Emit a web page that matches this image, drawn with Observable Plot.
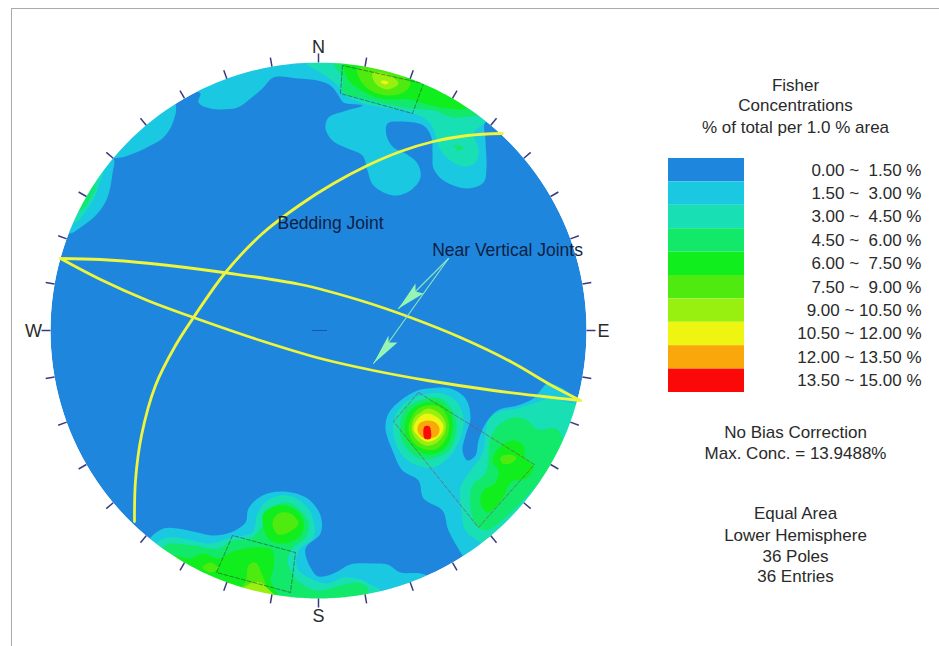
<!DOCTYPE html>
<html><head><meta charset="utf-8">
<script src="https://cdn.jsdelivr.net/npm/d3@7"></script>
<script src="https://cdn.jsdelivr.net/npm/@observablehq/plot@0.6"></script>
<style>html,body{margin:0;padding:0;background:#fff}svg{display:block}</style>
</head><body><div id="chart"></div>
<script>
// Net coordinates: east and north, the net radius is 268 units.
const netRadius = 268;
const levelColors = ["#1f86dd","#1ac8e2","#18e0b4","#12e86a","#10ee1e","#4eea10","#98f010","#eef510","#f9a70a","#fb0808"];
const legendLabels = ["0.00 ~\u00a0\u00a01.50 %","1.50 ~\u00a0\u00a03.00 %","3.00 ~\u00a0\u00a04.50 %","4.50 ~\u00a0\u00a06.00 %","6.00 ~\u00a0\u00a07.50 %","7.50 ~\u00a0\u00a09.00 %","9.00 ~ 10.50 %","10.50 ~ 12.00 %","12.00 ~ 13.50 %","13.50 ~ 15.00 %"];
const legendTitle = ["Fisher","Concentrations","% of total per 1.0 % area"];
const noteLines = ["No Bias Correction","Max. Conc. = 13.9488%"];
const statLines = ["Equal Area","Lower Hemisphere","36 Poles","36 Entries"];
const compass = [{t:"N",x:0,y:283},{t:"S",x:0,y:-286},{t:"W",x:-285,y:-1},{t:"E",x:285,y:-1}];
const tickAzimuths = d3.range(0,360,10);

// Contours, by level
const northL1 = [[-122,240],[-118,237],[-120,228],[-108,222],[-81,223],[-68,232],[-56,242],[-45,253],[-21,252],[-1,250],[12,245],[20,235],[25,228],[44,225],[25,219],[10,213],[7,202],[14,190],[29,182],[44,175],[49,160],[55,145],[75,135],[92,140],[102,153],[99,167],[87,177],[75,183],[68,195],[69,207],[82,209],[105,205],[113,193],[114,177],[115,162],[125,150],[149,142],[165,148],[168,163],[167,190],[167,210],[205,240],[60,305],[-125,295]];
const nwL1a = [[-250,97],[-238,103],[-221,117],[-211,133],[-206,157],[-205,172],[-230,190],[-285,120]];
const nwL1b = [[-205,173],[-185,177],[-168,185],[-155,193],[-146,207],[-143,227],[-165,250],[-225,195]];
const southEastL1 = [[99,-60],[82,-70],[70,-83],[67,-98],[74,-120],[84,-140],[100,-150],[105,-168],[124,-180],[130,-200],[144,-225],[170,-265],[270,-160],[290,-75],[260,-68],[242,-57],[229,-53],[222,-60],[215,-68],[199,-75],[179,-80],[167,-93],[160,-110],[157,-125],[149,-130],[144,-120],[147,-105],[152,-87],[147,-68],[132,-58],[109,-58]];
const southWestL1 = [[-168,-207],[-155,-198],[-141,-198],[-121,-202],[-105,-205],[-88,-202],[-73,-192],[-70,-178],[-56,-165],[-35,-161],[-11,-168],[2,-185],[2,-203],[-13,-218],[-8,-237],[0,-246],[15,-243],[32,-234],[52,-233],[69,-234],[82,-242],[102,-243],[112,-248],[120,-295],[-60,-300],[-185,-235]];

const northL2 = [[-13,268],[2,258],[19,245],[24,237],[45,227],[69,222],[95,217],[112,207],[117,195],[122,180],[132,170],[145,164],[157,168],[160,183],[155,197],[167,208],[200,230],[60,292],[-13,292]];
const nwL2 = [[-244,108],[-231,122],[-223,135],[-219,147],[-215,160],[-225,180],[-275,130]];
const peakL2 = [[105,-64],[122,-63],[137,-70],[145,-87],[142,-107],[132,-125],[115,-137],[99,-135],[84,-125],[75,-105],[76,-87],[87,-72]];
const eastL2 = [[179,-82],[199,-78],[215,-73],[232,-68],[249,-72],[285,-80],[275,-155],[200,-235],[159,-210],[147,-200],[143,-180],[142,-157],[150,-143],[164,-123],[167,-103],[170,-90]];
const southWestL2 = [[-161,-212],[-150,-207],[-131,-209],[-108,-213],[-88,-207],[-66,-202],[-61,-183],[-51,-170],[-31,-165],[-13,-175],[-5,-190],[-5,-207],[-20,-220],[-21,-238],[-8,-248],[9,-253],[25,-247],[42,-249],[54,-255],[62,-260],[70,-290],[-60,-295],[-170,-240]];

const northL3 = [[15,267],[24,253],[25,238],[42,233],[65,227],[94,222],[115,220],[135,213],[152,214],[159,215],[190,240],[60,290],[15,290]];
const lobeL3 = [[135,185],[140,180],[145,183],[140,185]];
const nwL3 = [[-238,120],[-228,133],[-223,145],[-235,160],[-265,130]];
const peakL3 = [[107,-68],[122,-68],[135,-82],[138,-98],[132,-118],[115,-128],[99,-127],[85,-113],[81,-97],[87,-78],[97,-72]];
const eastL3 = [[195,-87],[209,-90],[219,-99],[237,-98],[244,-108],[237,-128],[222,-150],[209,-165],[189,-185],[167,-200],[157,-193],[152,-177],[154,-155],[167,-143],[170,-127],[172,-108],[180,-95]];
const southWestL3 = [[-153,-215],[-145,-213],[-125,-215],[-101,-218],[-86,-210],[-68,-208],[-56,-195],[-48,-178],[-31,-172],[-18,-180],[-10,-193],[-13,-207],[-26,-218],[-31,-230],[-21,-250],[-1,-260],[22,-255],[39,-252],[49,-257],[50,-265],[50,-295],[-60,-295],[-165,-240]];

const northL4 = [[25,266],[29,252],[40,242],[62,232],[92,231],[105,227],[129,222],[149,222],[175,235],[60,285],[25,285]];
const peakL4 = [[107,-72],[120,-72],[132,-83],[134,-100],[127,-117],[112,-124],[99,-120],[88,-107],[87,-90],[94,-78]];
const eastL4 = [[194,-110],[205,-115],[207,-128],[215,-135],[209,-147],[192,-152],[184,-168],[169,-182],[162,-172],[165,-160],[177,-152],[180,-140],[174,-130],[180,-118]];
const southUpperL4 = [[-55,-197],[-55,-183],[-41,-175],[-25,-178],[-15,-190],[-18,-205],[-33,-213],[-48,-210]];
const southLowerL4 = [[-145,-226],[-128,-228],[-115,-223],[-100,-228],[-88,-222],[-73,-218],[-55,-217],[-46,-220],[-45,-237],[-48,-250],[-41,-265],[-60,-290],[-130,-260]];

const northL5 = [[39,262],[42,250],[52,240],[69,235],[85,238],[92,247],[79,257],[59,262]];
const peakL5 = [[109,-75],[122,-77],[130,-90],[129,-105],[119,-118],[107,-119],[95,-112],[90,-98],[94,-85],[100,-78]];
const eastL5 = [[182,-127],[190,-124],[198,-127],[192,-133],[184,-133]];
const southUpperL5 = [[-46,-192],[-40,-183],[-28,-183],[-20,-193],[-30,-202],[-41,-204]];
const southDotL5 = [[-116,-237],[-108,-232],[-100,-238],[-108,-242]];
const southEdgeL5 = [[-73,-252],[-70,-235],[-63,-232],[-56,-245],[-51,-258],[-46,-265],[-60,-280],[-85,-265]];

const northL6 = [[54,257],[57,247],[69,241],[80,247],[75,253],[62,258]];
const peakL6 = [[109,-78],[120,-82],[127,-92],[126,-103],[117,-113],[107,-115],[97,-108],[93,-98],[96,-87],[102,-82]];
const southEdgeL6 = [[-68,-253],[-58,-252],[-51,-258],[-45,-265],[-60,-285],[-80,-265]];

const northL7 = [[62,249],[67,246],[70,248],[66,250]];
const peakL7 = [[109,-83],[119,-87],[125,-95],[123,-103],[115,-110],[107,-111],[99,-105],[95,-98],[98,-90],[103,-85]];
const peakL8 = [[109,-90],[117,-92],[121,-98],[119,-105],[110,-108],[104,-107],[99,-100],[101,-93]];
const peakL9 = [[106,-96],[111,-96],[112,-108],[106,-108]];

const contourLayers = [
  [1,[northL1,nwL1a,nwL1b,southEastL1,southWestL1]],
  [2,[northL2,nwL2,peakL2,eastL2,southWestL2]],
  [3,[northL3,lobeL3,nwL3,peakL3,eastL3,southWestL3]],
  [4,[northL4,peakL4,eastL4,southUpperL4,southLowerL4]],
  [5,[northL5,peakL5,eastL5,southUpperL5,southDotL5,southEdgeL5]],
  [6,[northL6,peakL6,southEdgeL6]],
  [7,[northL7,peakL7]],
  [8,[peakL8]],
  [9,[peakL9]]
];

// Dashed selection windows
const windowNorth = [[24,265],[22,237],[94,217],[105,247]];
const windowEast = [[100,-62],[75,-91],[160,-197],[216,-134]];
const windowSouth = [[-86,-205],[-102,-242],[-28,-262],[-23,-222]];

// Great circles
const jointUpper = [[-258,72],[-218,71],[-168,67],[-95,58],[-18,46],[42,30],[92,13],[142,-7],[192,-31],[235,-56],[262,-70]];
const jointLower = [[-258,72],[-218,51],[-171,30],[-125,13],[-58,-10],[2,-28],[55,-40],[109,-50],[175,-60],[225,-66],[262,-70]];
const beddingJoint = [[-184,-191],[-183,-150],[-177,-105],[-163,-55],[-143,-15],[-125,13],[-93,58],[-56,97],[-18,126],[15,147],[49,165],[82,179],[115,189],[149,195],[184,197]];

// Annotation arrows
const arrowOne = [[130,72],[80,22]];
const arrowTwo = [[130,72],[55,-33]];
const headOne = [[80,22],[97,47],[97,39],[105,37]];
const headTwo = [[55,-33],[70,-5],[70,-12],[79,-12]];

const rad = a => a*Math.PI/180;
const circleAt = r => d3.range(0,360,2).map(a => [r*Math.sin(rad(a)), r*Math.cos(rad(a))]);
const tf = "Liberation Sans, Arial, sans-serif";
const textColor = "#2a2a2a";
const legendX1 = 350, legendX2 = 426, legendTop = 172, legendStep = 23.4;
const centerText = (lines, ys) => Plot.text(lines, {x:() => 477, y:(d,i) => ys[i], text:d => d, fontFamily:tf, fontSize:17, fill:textColor, textAnchor:"middle"});

const contourMarks = contourLayers.flatMap(([level, rings]) => rings.map(r =>
  Plot.line(r, {fill:levelColors[level], stroke:"none", curve:"catmull-rom-closed", imageFilter:"blur(0.6px)"})));

const plot = Plot.plot({
  width:939, height:646, margin:0,
  x:{domain:[-318,621], range:[0,939], axis:null},
  y:{domain:[330,-316], range:[0,646], axis:null},
  marks:[
    Plot.line(circleAt(netRadius), {fill:levelColors[0], stroke:"none", curve:"linear-closed"}),
    ...contourMarks,
    ...[windowNorth, windowSouth].map(r => Plot.line(r, {curve:"linear-closed", stroke:"#2d3a2d", strokeOpacity:0.7, strokeWidth:0.8, strokeDasharray:"4 2"})),
    Plot.line(windowEast, {curve:"linear-closed", stroke:"#8a4a40", strokeOpacity:0.8, strokeWidth:0.8, strokeDasharray:"4 2"}),
    // white surround that trims the contours at the edge of the net
    Plot.line(circleAt(netRadius+32), {curve:"linear-closed", stroke:"#fff", strokeWidth:64}),
    Plot.ruleY([322], {x1:-307, x2:621, stroke:"#aaa", strokeWidth:1}),
    Plot.ruleX([-307], {y1:322, y2:-316, stroke:"#aaa", strokeWidth:1}),
    Plot.link(tickAzimuths, {
      x1:a => netRadius*Math.sin(rad(a)), y1:a => netRadius*Math.cos(rad(a)),
      x2:a => (netRadius+9)*Math.sin(rad(a)), y2:a => (netRadius+9)*Math.cos(rad(a)),
      stroke:"#3a3a80", strokeWidth:1.5
    }),
    Plot.ruleY([0], {x1:-6, x2:9, stroke:"#1a4a90", strokeWidth:0.8}),
    ...[jointUpper, jointLower, beddingJoint].map(r => Plot.line(r, {curve:"catmull-rom", stroke:"#eef53a", strokeWidth:2.8})),
    ...[arrowOne, arrowTwo].map(r => Plot.line(r, {stroke:"#8fe8c0", strokeWidth:1.1})),
    ...[headOne, headTwo].map(r => Plot.line(r, {curve:"linear-closed", fill:"#96f5b4", stroke:"none"})),
    Plot.text(["Bedding Joint"], {x:() => 12, y:() => 107, text:d => d, fontFamily:tf, fontSize:17.5, fill:"#0e1f45", textAnchor:"middle"}),
    Plot.text(["Near Vertical Joints"], {x:() => 189, y:() => 80, text:d => d, fontFamily:tf, fontSize:17.5, fill:"#0e1f45", textAnchor:"middle"}),
    Plot.text(compass, {x:"x", y:"y", text:"t", fontFamily:tf, fontSize:18, fill:textColor}),
    Plot.rect(levelColors, {
      x1:() => legendX1, x2:() => legendX2,
      y1:(d,i) => legendTop - i*legendStep, y2:(d,i) => legendTop - (i+1)*legendStep,
      fill:d => d
    }),
    Plot.text(legendLabels, {x:() => 603, y:(d,i) => legendTop - (i+0.5)*legendStep, text:d => d, fontFamily:tf, fontSize:17, fill:textColor, textAnchor:"end"}),
    centerText(legendTitle, [245,225,203]),
    centerText(noteLines, [-102,-123]),
    centerText(statLines, [-183,-205,-226,-246])
  ]
});
document.getElementById("chart").append(plot);
</script></body></html>
